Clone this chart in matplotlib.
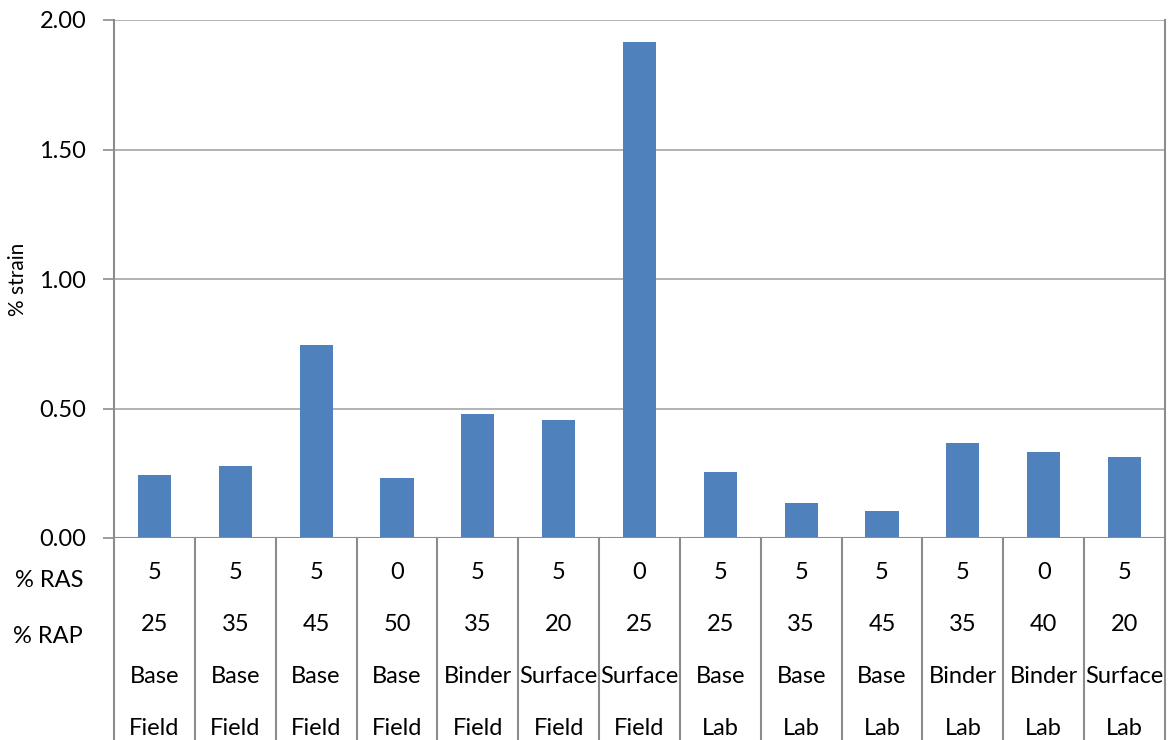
import matplotlib.pyplot as plt
import numpy as np

plt.rcParams['font.family'] = ['Lato', 'DejaVu Sans']

ras = ["5", "5", "5", "0", "5", "5", "0", "5", "5", "5", "5", "0", "5"]
rap = ["25", "35", "45", "50", "35", "20", "25", "25", "35", "45", "35", "40", "20"]
layer = ["Base", "Base", "Base", "Base", "Binder", "Surface", "Surface",
         "Base", "Base", "Base", "Binder", "Binder", "Surface"]
source = ["Field"] * 7 + ["Lab"] * 6
strain = [0.243, 0.278, 0.745, 0.232, 0.479, 0.456, 1.915,
          0.255, 0.135, 0.104, 0.367, 0.332, 0.313]

W, H = 1172, 740
fig = plt.figure(figsize=(W / 100, H / 100), dpi=100)
ax = fig.add_axes([114 / W, (H - 538) / H, (1165 - 114) / W, 518 / H])

n = len(strain)
x = np.arange(n)
ax.bar(x, strain, width=0.41, color="#4f81bd", zorder=3)
ax.set_xlim(-0.5, n - 0.5)
ax.set_ylim(0, 2.0)
ax.set_yticks(np.arange(0, 2.01, 0.5))
ax.set_yticklabels([f"{v:.2f}" for v in np.arange(0, 2.01, 0.5)], fontsize=17)
ax.set_xticks([])
ax.grid(axis="y", color="#a6a6a6", linewidth=1.2, zorder=0)
for s in ["top", "bottom"]:
    ax.spines[s].set_visible(False)
for s in ["left", "right"]:
    ax.spines[s].set_color("#8c8c8c")
    ax.spines[s].set_linewidth(1.5)
ax.axhline(0, color="#8c8c8c", linewidth=1.5, zorder=4)
ax.tick_params(axis="y", length=8, width=1.2, color="#8c8c8c", pad=12)
ax.set_ylabel("% strain", fontsize=15)
ax.yaxis.set_label_coords(-86 / 1051, 0.5)

# category table below the axis
row_h = 52 / 518
rows = [ras, rap, layer, source]
for r, labels in enumerate(rows):
    yc = -(r + 0.66) * row_h
    for i, lab in enumerate(labels):
        ax.text(i, yc, lab, ha="center", va="center", fontsize=17,
                transform=ax.get_xaxis_transform(), clip_on=False)
ax.text(-0.5 - 31 / 81, -0.82 * row_h, "% RAS", ha="right", va="center", fontsize=17,
        transform=ax.get_xaxis_transform())
ax.text(-0.5 - 31 / 81, -1.89 * row_h, "% RAP", ha="right", va="center", fontsize=17,
        transform=ax.get_xaxis_transform())
for b in np.arange(-0.5, n, 1.0):
    ax.plot([b, b], [0, -H / 518], color="#8c8c8c", linewidth=1.5,
            transform=ax.get_xaxis_transform(), clip_on=False)

fig.savefig("out.png", dpi=100)
